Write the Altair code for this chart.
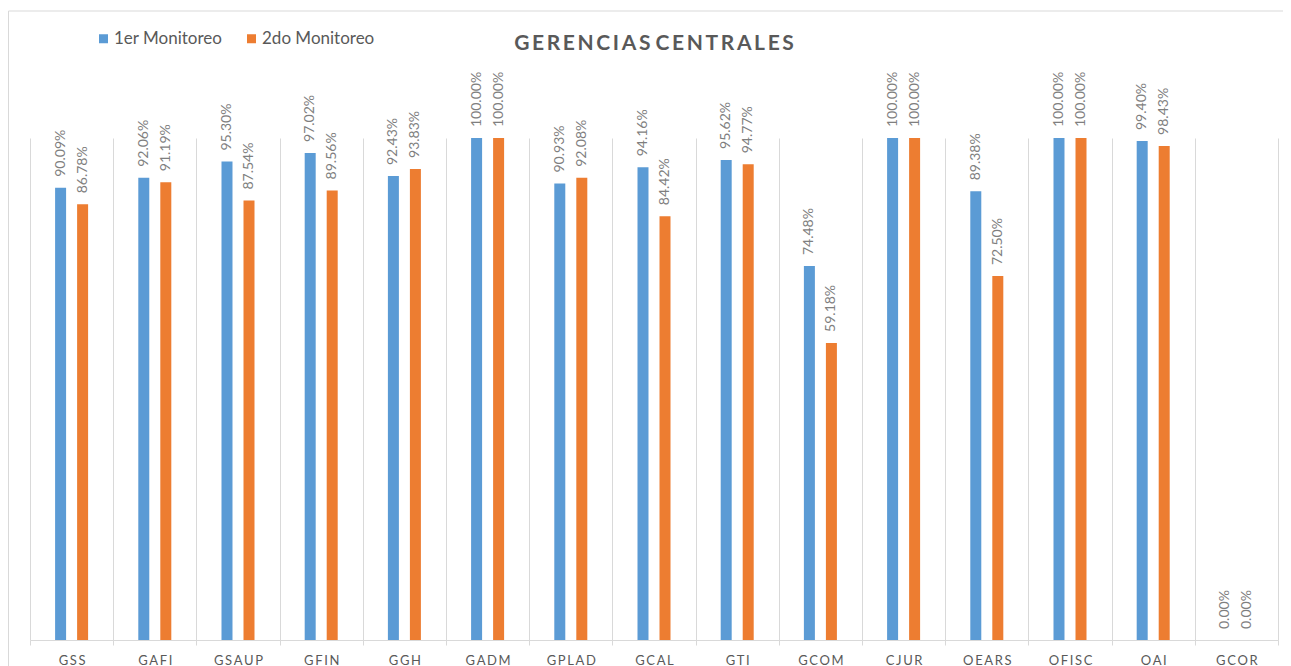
import altair as alt
import pandas as pd

categories = ["GSS", "GAFI", "GSAUP", "GFIN", "GGH", "GADM", "GPLAD", "GCAL",
              "GTI", "GCOM", "CJUR", "OEARS", "OFISC", "OAI", "GCOR"]
series = ["1er Monitoreo", "2do Monitoreo"]
monitoreo1 = [0.9009, 0.9206, 0.9530, 0.9702, 0.9243, 1.0000, 0.9093, 0.9416,
              0.9562, 0.7448, 1.0000, 0.8938, 1.0000, 0.9940, 0.0000]
monitoreo2 = [0.8678, 0.9119, 0.8754, 0.8956, 0.9383, 1.0000, 0.9208, 0.8442,
              0.9477, 0.5918, 1.0000, 0.7250, 1.0000, 0.9843, 0.0000]
colors = ["#5B9BD5", "#ED7D31"]

rows = []
for i, c in enumerate(categories):
    rows.append({"cat": c, "serie": series[0], "val": monitoreo1[i]})
    rows.append({"cat": c, "serie": series[1], "val": monitoreo2[i]})
df = pd.DataFrame(rows)

FONT = "Lato"
W, H = 1248, 502

x = alt.X("cat:N", sort=categories, title=None,
          scale=alt.Scale(paddingInner=0, paddingOuter=0),
          axis=alt.Axis(labelAngle=0, grid=True, tickBand="extent",
                        gridColor="#d9d9d9", domainColor="#d9d9d9",
                        tickColor="#d9d9d9", tickSize=5, labelPadding=9,
                        labelFont=FONT, labelFontSize=13, labelColor="#595959",
                        labelExpr="join(split(datum.label, ''), '\u2009') + '\u2009\u2009'"))
xo = alt.XOffset("serie:N", sort=series,
                 scale=alt.Scale(domain=series, paddingInner=0.22, paddingOuter=1))
y = alt.Y("val:Q", scale=alt.Scale(domain=[0, 1], nice=False), axis=None)

bars = alt.Chart(df).mark_bar(size=11).encode(
    x=x, xOffset=xo, y=y,
    color=alt.Color("serie:N", sort=series,
                    scale=alt.Scale(domain=series, range=colors),
                    legend=alt.Legend(title=None, orient="none", legendX=65, legendY=-108,
                                      direction="horizontal", symbolType="square",
                                      symbolSize=81, symbolStrokeWidth=0,
                                      labelFont=FONT, labelFontSize=17,
                                      labelColor="#595959", labelOffset=2,
                                      columnPadding=20, padding=0)),
)

labels = alt.Chart(df).mark_text(angle=270, align="left", baseline="middle", dx=11,
                                 font=FONT, fontSize=14, color="#7f7f7f").encode(
    x=x, xOffset=xo, y=y,
    text=alt.Text("val:Q", format=".2%"),
)

border_df = pd.DataFrame({"k": [0]})
border_left = alt.Chart(border_df).mark_rule(color="#d9d9d9", strokeWidth=1).encode(
    x=alt.value(-21.5), y=alt.value(-127), y2=alt.value(H + 40))
border_top = alt.Chart(border_df).mark_rule(color="#d9d9d9", strokeWidth=1).encode(
    x=alt.value(-21.5), x2=alt.value(W + 10), y=alt.value(-127))

TS = "\u2009"
title_text = TS.join("GERENCIAS") + " " + TS.join("CENTRALES")

chart = alt.layer(border_left, border_top, bars, labels).properties(
    width=W, height=H,
    title=alt.TitleParams(
        title_text,
        font=FONT, fontSize=21, fontWeight="bold", color="#595959",
        anchor="middle", frame="group", baseline="alphabetic", offset=-60),
    autosize=alt.AutoSizeParams(type="none"),
    padding={"left": 22, "top": 130, "right": 5, "bottom": 30},
).configure_view(stroke=None)

chart.save("out.html", embed_options={"renderer": "svg", "actions": False})
